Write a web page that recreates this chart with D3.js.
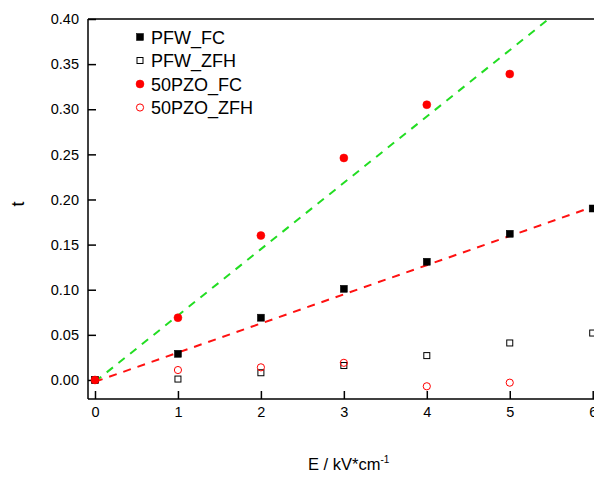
<!DOCTYPE html>
<html><head><meta charset="utf-8">
<script src="https://cdn.jsdelivr.net/npm/d3@7"></script>
<style>body{margin:0;background:#fff}svg{display:block;font-family:"Liberation Sans",Arial,sans-serif}</style>
</head><body><svg id="c" width="594" height="478"></svg>
<script>
const E = [0, 1, 2, 3, 4, 5, 6];
const pfwFC  = [0.000, 0.029, 0.069, 0.101, 0.131, 0.162, 0.190];
const pfwZFH = [0.000, 0.001, 0.008, 0.016, 0.027, 0.041, 0.052];
const pzoFC  = [0.000, 0.069, 0.160, 0.246, 0.305, 0.339];
const pzoZFH = [0.000, 0.011, 0.014, 0.019, -0.007, -0.003];
// linear fits: [intercept, slope]
const fitPZO = [-0.002, 0.0735];
const fitPFW = [-0.002, 0.0323];
const xTicks = [0, 1, 2, 3, 4, 5, 6];
const yTicks = [0.00, 0.05, 0.10, 0.15, 0.20, 0.25, 0.30, 0.35, 0.40];
const legendNames = ["PFW_FC", "PFW_ZFH", "50PZO_FC", "50PZO_ZFH"];

const svg = d3.select("#c");
const L = 88, R = 601, T = 19, B = 399;
const x = d3.scaleLinear().domain([-0.0843, 6.1]).range([L, R]);
const y = d3.scaleLinear().domain([-0.0211, 0.40]).range([B, T]);

svg.append("defs").append("clipPath").attr("id","clip")
  .append("rect").attr("x",L).attr("y",T).attr("width",R-L).attr("height",B-T);

// fit lines
const fitX = [0, 6.1];
function drawFit(coef, color){
  svg.append("path")
    .attr("clip-path","url(#clip)")
    .attr("d", d3.line().x(d=>x(d)).y(d=>y(coef[0]+coef[1]*d))(fitX))
    .attr("fill","none").attr("stroke",color).attr("stroke-width",2)
    .attr("stroke-dasharray","8,7");
}
drawFit(fitPZO, "#22dd22");
drawFit(fitPFW, "#ff1111");

// frame
svg.append("path").attr("d",`M${L},${T}H${R}`).attr("stroke","#000").attr("stroke-width",1.5);

// axes
const xAxis = svg.append("g").attr("transform",`translate(0,${B})`)
  .call(d3.axisBottom(x).tickValues(xTicks).tickFormat(d3.format("d")).tickSizeInner(-8).tickSizeOuter(0));
const yAxis = svg.append("g").attr("transform",`translate(${L},0)`)
  .call(d3.axisLeft(y).tickValues(yTicks).tickFormat(d3.format(".2f")).tickSizeInner(-8).tickSizeOuter(0).tickPadding(9));
[xAxis,yAxis].forEach(g=>{
  g.select(".domain").attr("stroke","#000").attr("stroke-width",1.5);
  g.selectAll(".tick line").attr("stroke","#000").attr("stroke-width",1.5);
  g.selectAll("text").attr("font-size",14.5).attr("fill","#000").attr("font-family","'Liberation Sans',Arial,sans-serif");
});
xAxis.selectAll(".tick text").attr("y",18).attr("dy",0);
yAxis.select(".domain").attr("d",`M0,${B}V${T}`);
xAxis.select(".domain").attr("d",`M${L},0H${R}`);

// markers
function squares(vals, filled){
  svg.append("g").selectAll("rect").data(vals).join("rect")
    .attr("x",(d,i)=>x(E[i])-(filled?3.5:3)).attr("y",d=>y(d)-(filled?3.5:3))
    .attr("width",filled?7:6).attr("height",filled?7:6)
    .attr("fill",filled?"#000":"#fff").attr("stroke","#000").attr("stroke-width",filled?0.5:1);
}
function circles(vals, filled){
  svg.append("g").selectAll("circle").data(vals).join("circle")
    .attr("cx",(d,i)=>x(E[i])).attr("cy",d=>y(d)).attr("r",filled?4:3.6)
    .attr("fill",filled?"#ff0000":"none").attr("stroke","#ff0000").attr("stroke-width",filled?0.5:1);
}
squares(pfwZFH,false);
circles(pzoZFH,false);
squares(pfwFC,true);
circles(pzoFC,true);

// legend
const lg = svg.append("g");
legendNames.forEach((n,i)=>{
  const by = 43.5 + i*23.5, cy = by-6.5, cx = 140;
  if(i<2) lg.append("rect").attr("x",cx-(i==0?3.5:3)).attr("y",cy-(i==0?3.5:3))
      .attr("width",i==0?7:6).attr("height",i==0?7:6)
      .attr("fill",i==0?"#000":"#fff").attr("stroke","#000").attr("stroke-width",i==0?0.5:1);
  else lg.append("circle").attr("cx",cx).attr("cy",cy).attr("r",i==2?4:3.6)
      .attr("fill",i==2?"#ff0000":"none").attr("stroke","#ff0000").attr("stroke-width",i==2?0.5:1);
  lg.append("text").attr("x",151).attr("y",by).attr("font-size",18).text(n);
});

// axis titles
const xt = svg.append("text").attr("x",308).attr("y",470).attr("font-size",16.5);
xt.append("tspan").text("E / kV*cm");
xt.append("tspan").attr("dy",-7).attr("font-size",10).text("-1");
svg.append("text").attr("transform","translate(24,204) rotate(-90)")
  .attr("text-anchor","middle").attr("font-size",18).text("t");
</script></body></html>
